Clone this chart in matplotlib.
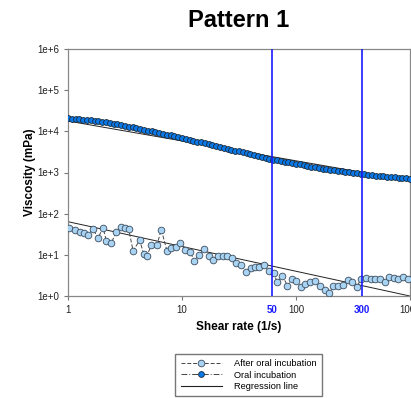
import numpy as np
import matplotlib
matplotlib.use("Agg")
import matplotlib.pyplot as plt

plt.rcParams['font.family'] = ['Liberation Sans', 'DejaVu Sans']

# oral incubation (dark blue points)
oral_x = [1, 1.08, 1.17, 1.26, 1.36, 1.47, 1.58, 1.71, 1.85, 2.0,
          2.15, 2.33, 2.51, 2.71, 2.93, 3.16, 3.41, 3.69, 3.98, 4.3,
          4.64, 5.01, 5.41, 5.84, 6.31, 6.81, 7.36, 7.94, 8.58, 9.26,
          10, 10.8, 11.7, 12.6, 13.6, 14.7, 15.8, 17.1, 18.5, 20.0,
          21.5, 23.3, 25.1, 27.1, 29.3, 31.6, 34.1, 36.9, 39.8, 43.0,
          46.4, 50.1, 54.1, 58.4, 63.1, 68.1, 73.6, 79.4, 85.8, 92.6,
          100, 108, 117, 126, 136, 147, 158, 171, 185, 200,
          215, 233, 251, 271, 293, 316, 341, 369, 398, 430,
          464, 501, 541, 584, 631, 681, 736, 794, 858, 926, 1000]
oral_y = [20900, 20450, 20010, 19590, 19170, 18770, 18370, 17980, 17590, 17220,
          16550, 15900, 15280, 14680, 14110, 13550, 13020, 12510, 12020, 11480,
          10960, 10470, 10000, 9550, 9120, 8710, 8320, 7940, 7590, 7240,
          6920, 6580, 6250, 5940, 5650, 5370, 5100, 4850, 4610, 4390,
          4170, 3960, 3770, 3580, 3400, 3240, 3080, 2920, 2780, 2640,
          2510, 2390, 2270, 2160, 2050, 1974, 1900, 1828, 1759, 1693,
          1629, 1568, 1509, 1452, 1398, 1345, 1294, 1246, 1199, 1153,
          1122, 1091, 1062, 1033, 1005, 977, 951, 925, 899, 881,
          863, 845, 828, 811, 794, 778, 762, 746, 731, 716, 701]

# after oral incubation (light blue points)
after_x = [1.03, 1.15, 1.27, 1.37, 1.50, 1.66, 1.83, 2.03, 2.17, 2.40,
           2.65, 2.94, 3.18, 3.41, 3.72, 4.26, 4.61, 4.93, 5.38, 6.04,
           6.58, 7.38, 8.01, 8.77, 9.70, 10.7, 11.8, 12.8, 14.1, 15.6,
           17.3, 18.8, 20.7, 22.7, 24.9, 27.5, 29.8, 32.7, 36.4, 39.9,
           43.7, 47.4, 52.4, 57.9, 63.5, 68.5, 76.1, 84.2, 92.2, 100,
           111, 121, 134, 147, 162, 178, 196, 213, 234, 257,
           286, 313, 340, 372, 411, 455, 496, 546, 604, 658,
           724, 788, 868, 960]
after_y = [45.6, 40.8, 36.5, 34.5, 30.8, 42.4, 25.2, 45.6, 22.0, 19.7,
           35.3, 48.2, 44.1, 41.7, 12.6, 22.5, 10.5, 9.5, 17.3, 17.6,
           40.8, 12.6, 14.7, 15.9, 19.4, 13.1, 11.9, 7.2, 9.9, 13.6,
           9.6, 7.5, 9.2, 9.4, 9.4, 8.2, 6.2, 5.7, 3.8, 4.9,
           5.15, 5.15, 5.7, 3.94, 3.62, 2.19, 3.06, 1.78, 2.54, 2.35,
           1.68, 1.96, 2.23, 2.35, 1.75, 1.42, 1.16, 1.75, 1.77, 1.85,
           2.45, 2.23, 1.65, 2.54, 2.78, 2.56, 2.56, 2.56, 2.13, 2.94,
           2.74, 2.52, 2.89, 2.63]

# regression lines: log10(y) = a + b*log10(x)
reg_oral = (4.25, -0.483)
reg_after = (1.805, -0.602)

# vertical reference lines (position as drawn, label as printed)
vline_x = [61.5, 378]
vline_labels = ["50", "300"]

x_ticks = [1, 10, 100, 1000]
x_tick_labels = ["1", "10", "100", "1000"]
y_ticks = [1, 10, 100, 1e3, 1e4, 1e5, 1e6]
y_tick_labels = ["1e+0", "1e+1", "1e+2", "1e+3", "1e+4", "1e+5", "1e+6"]

fig = plt.figure(figsize=(4.11, 3.98), dpi=100)
ax = fig.add_axes([68 / 411, 102 / 398, 342 / 411, 247 / 398])

xr = np.array([1, 1000])
for a, b in (reg_oral, reg_after):
    ax.plot(xr, 10 ** (a + b * np.log10(xr)), color='#222222', lw=0.7, zorder=2)
h_reg, = ax.plot([], [], color='#222222', lw=0.8, label='Regression line')

h_after, = ax.plot(after_x, after_y, linestyle=(0, (4, 2)), color='#444444', lw=0.7,
                   marker='o', ms=4.8, mfc='#a9d3f2', mec='#3c4c5c', mew=0.6,
                   label='After oral incubation', zorder=3)
h_oral, = ax.plot(oral_x, oral_y, linestyle=(0, (6, 2, 1, 2)), color='#444444', lw=0.7,
                  marker='o', ms=4.2, mfc='#0a78e6', mec='#1c2a3a', mew=0.6,
                  label='Oral incubation', zorder=3)

for xv, lab in zip(vline_x, vline_labels):
    ax.axvline(xv, color='#1a1aff', lw=1.2, zorder=4)
    ax.annotate(lab, xy=(xv, 0), xycoords=('data', 'axes fraction'),
                xytext=(0, -6.5), textcoords='offset points', ha='center', va='top',
                fontsize=7, fontweight='bold', color='#1a1aff')

ax.set_xscale('log')
ax.set_yscale('log')
ax.set_xlim(1, 1000)
ax.set_ylim(1, 1e6)
ax.set_xticks(x_ticks)
ax.set_xticklabels(x_tick_labels)
ax.set_yticks(y_ticks)
ax.set_yticklabels(y_tick_labels)
ax.minorticks_off()
ax.tick_params(direction='out', length=3, width=0.8, color='#777777',
               labelsize=7, labelcolor='#222222')
for s in ax.spines.values():
    s.set_color('#888888')
    s.set_linewidth(0.9)

ax.set_title('Pattern 1', fontsize=17, fontweight='bold', pad=16)
ax.set_xlabel('Shear rate (1/s)', fontsize=8.5, fontweight='bold')
ax.set_ylabel('Viscosity (mPa)', fontsize=8.5, fontweight='bold', labelpad=1)

fig.legend(handles=[h_after, h_oral, h_reg], loc='upper left',
           bbox_to_anchor=(170.7 / 411, 1 - 349 / 398), fontsize=6.7,
           frameon=True, fancybox=False, edgecolor='#777777', framealpha=1,
           handlelength=4.4, handletextpad=1.3, borderpad=0.6, labelspacing=0.25,
           numpoints=1)

fig.savefig('out.png', dpi=100)
